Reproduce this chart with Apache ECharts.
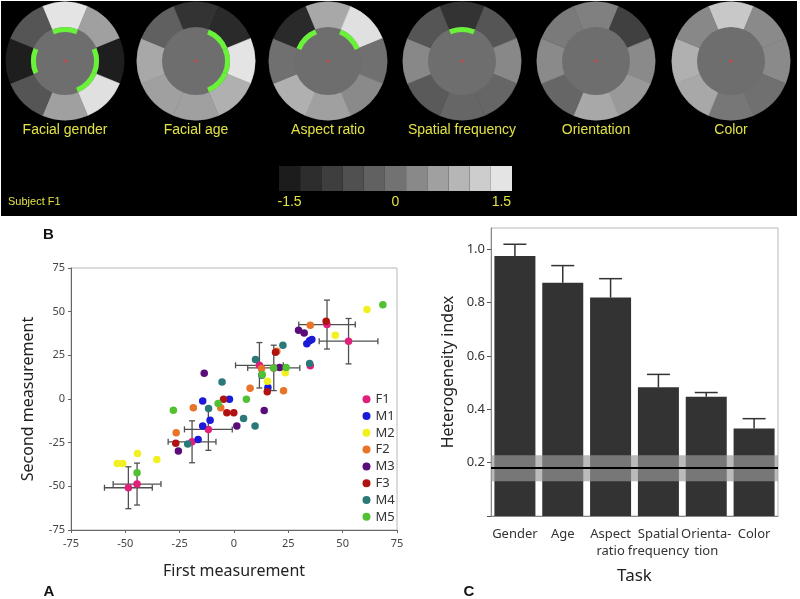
<!DOCTYPE html>
<html>
<head>
<meta charset="utf-8">
<script src="https://cdn.jsdelivr.net/npm/echarts@6/dist/echarts.min.js"></script>
<style>html,body{margin:0;padding:0;background:#fff;}#c{width:800px;height:599px;}</style>
</head>
<body>
<div id="c"></div>
<script>
// ---------- Panel top: disc maps (sector values clockwise from top, scale -1.5..1.5) ----------
const discNames = ['Facial gender', 'Facial age', 'Aspect ratio', 'Spatial frequency', 'Orientation', 'Color'];
const discGender = [1.5, 0.61, -1.47, 1.45, 0.61, -0.51, -1.47, -0.51];
const discAge = [-1.1, -1.26, 1.5, 0.82, 0.61, 0.61, 0.71, -0.31];
const discAspect = [0.71, 1.45, -0.03, 0.32, 0.61, 0.82, -0.03, -1.26];
const discSpatial = [-1.1, -0.51, 0.29, -0.21, -0.21, -0.42, 0.29, -0.51];
const discOrient = [0.18, -0.87, 0.32, 0.51, 0.71, -0.21, 0.32, 0.11];
const discColor = [1.13, 0.32, 0.32, -0.03, 0.07, 0.71, 0.82, 0.29];
const discInner = [-0.07, -0.07, -0.07, -0.07, -0.07, -0.07];
// significant sectors (green arcs)
const sigGender = [1, 0, 1, 1, 0, 0, 1, 0];
const sigAge = [0, 1, 1, 1, 0, 0, 0, 0];
const sigAspect = [0, 1, 0, 0, 0, 0, 0, 1];
const sigSpatial = [1, 0, 0, 0, 0, 0, 0, 0];
const sigOrient = [0, 0, 0, 0, 0, 0, 0, 0];
const sigColor = [0, 0, 0, 0, 0, 0, 0, 0];
const colorbarLevels = [-1.5, -1.2, -0.9, -0.6, -0.3, 0, 0.3, 0.6, 0.9, 1.2, 1.5];
const colorbarTicks = ['-1.5', '0', '1.5'];

// ---------- Panel A: scatter (first vs second measurement) ----------
const subjects = ['F1', 'M1', 'M2', 'F2', 'M3', 'F3', 'M4', 'M5'];
const subjectColors = ['#e0207a', '#1a1ad8', '#f2f020', '#e8742a', '#5a0c78', '#b01212', '#2a7878', '#52c032'];
const ptsF1 = [[-48.6, -50.8], [-44.6, -48.7], [-19.3, -24.5], [-11.8, -17.4], [11.7, 19.3], [18.3, 17.8], [42.8, 42.6], [52.7, 33.1], [35.1, 19.0]];
const errF1 = [[11, 12], [11, 12], [11, 12], [11, 12], [11, 13], [12, 13], [13, 14], [13.5, 13], [0, 0]];
const ptsM1 = [[-16.5, -23.2], [-14.4, -15.5], [-11, -12.1], [-14.4, -1.2], [-2.1, -0.1], [15.6, 6.6], [33.5, 31.7], [34.8, 33.3], [35.8, 34.0]];
const ptsM2 = [[-53.7, -36.9], [-51.2, -36.9], [-44.4, -31.2], [-35.5, -34.6], [15.4, 10.2], [23.6, 15], [46.6, 36.5], [61.2, 51.2]];
const ptsF2 = [[-26.6, -19.3], [-18.7, -5], [-6.1, -5], [7.4, 6.1], [12.7, 17.4], [19.7, 27.3], [22.8, 4.7], [35.1, 42.2]];
const ptsM3 = [[-25.6, -29.8], [-13.7, 14.8], [1.3, -15.5], [13.9, -6.6], [21, 18], [29.7, 39.4], [32.3, 37.8]];
const ptsF3 = [[-26.8, -25.4], [-4.8, -0.1], [-3.3, -7.9], [-0.1, -7.9], [15.3, 4.1], [19.1, 26.8], [42.4, 44.5]];
const ptsM4 = [[-21.3, -25.8], [-11.7, -5.4], [-5.5, 9.8], [4.4, -11.1], [9.9, 22.6], [9.7, -15.5], [12.8, 13.6], [22.5, 30.8], [34.8, 20.3]];
const ptsM5 = [[-44.6, -42.2], [-27.9, -6.4], [-7.3, -2.6], [5.7, -0.1], [13, 14], [18.2, 17.8], [24, 18], [68.5, 54]];
const scatterTicks = [-75, -50, -25, 0, 25, 50, 75];

// ---------- Panel C: heterogeneity index ----------
const tasks = ['Gender', 'Age', 'Aspect\nratio', 'Spatial\nfrequency', 'Orienta-\ntion', 'Color'];
const hetValues = [0.975, 0.875, 0.819, 0.4825, 0.4475, 0.328];
const hetErrors = [0.044, 0.064, 0.071, 0.0485, 0.0155, 0.037];
const baselineBand = [0.13, 0.2275];
const baselineMean = 0.18;

// ---------- helpers ----------
function gray(v) {
  let g = v <= 0 ? 114 + (v / 1.5) * 86 : 114 + (v / 1.5) * 114;
  g = Math.max(0, Math.min(255, Math.round(g)));
  const h = g.toString(16).padStart(2, '0');
  return '#' + h + h + h;
}

const discVals = [discGender, discAge, discAspect, discSpatial, discOrient, discColor];
const discSig = [sigGender, sigAge, sigAspect, sigSpatial, sigOrient, sigColor];
const discCx = [65, 196, 328, 462, 596, 731];
const discCy = 61;

const series = [];
const graphic = [];
graphic.push({type: 'rect', z: -10, shape: {x: 1, y: 1, width: 796, height: 215}, style: {fill: '#000'}});

discVals.forEach((vals, d) => {
  const base = {type: 'pie', center: [discCx[d], discCy], startAngle: 112.5, clockwise: true, silent: true,
    label: {show: false}, labelLine: {show: false}, animation: false, emphasis: {disabled: true}};
  series.push(Object.assign({}, base, {radius: [33, 59],
    data: vals.map((v, i) => ({value: 1, name: 's' + i, itemStyle: {color: gray(v), borderColor: gray(v), borderWidth: 0.6}}))}));
  series.push(Object.assign({}, base, {radius: [0, 34], z: 3,
    data: [{value: 1, name: 'inner', itemStyle: {color: gray(discInner[d])}}]}));
  series.push(Object.assign({}, base, {radius: [29, 34], z: 4,
    data: discSig[d].map((s, i) => ({value: 1, name: 'g' + i, itemStyle: {color: s ? '#6af23a' : 'rgba(0,0,0,0)'}}))}));
  series.push(Object.assign({}, base, {radius: [0, 1.5], z: 5,
    data: [{value: 1, name: 'fix', itemStyle: {color: '#d04848'}}]}));
  graphic.push({type: 'text', z: 100, x: discCx[d], y: 130,
    style: {text: discNames[d], fill: '#e2e244', font: '14px "Liberation Sans", Arial, sans-serif', textAlign: 'center', textVerticalAlign: 'middle'}});
});
graphic.push({type: 'text', z: 100, x: 8, y: 202,
  style: {text: 'Subject F1', fill: '#e2e244', font: '11px "Liberation Sans", Arial, sans-serif', textAlign: 'left', textVerticalAlign: 'middle'}});
graphic.push({type: 'text', z: 100, x: 48.5, y: 235, style: {text: 'B', fill: '#111', font: 'bold 15px "Liberation Sans", Arial, sans-serif', textAlign: 'center', textVerticalAlign: 'middle'}});
graphic.push({type: 'text', z: 100, x: 49, y: 592, style: {text: 'A', fill: '#111', font: 'bold 15px "Liberation Sans", Arial, sans-serif', textAlign: 'center', textVerticalAlign: 'middle'}});
graphic.push({type: 'text', z: 100, x: 469, y: 592, style: {text: 'C', fill: '#111', font: 'bold 15px "Liberation Sans", Arial, sans-serif', textAlign: 'center', textVerticalAlign: 'middle'}});

// colour bar (grid 0)
series.push({type: 'bar', xAxisIndex: 0, yAxisIndex: 0, barCategoryGap: '0%', silent: true, animation: false,
  data: colorbarLevels.map(v => ({value: 1, itemStyle: {color: gray(v)}}))});

// scatter error bars (grid 1)
series.push({type: 'custom', xAxisIndex: 1, yAxisIndex: 1, z: 2, silent: true, animation: false,
  data: ptsF1.map((p, i) => [p[0], p[1], errF1[i][0], errF1[i][1]]).filter(d => d[2] > 0),
  renderItem: function (params, api) {
    const x = api.value(0), y = api.value(1), xe = api.value(2), ye = api.value(3);
    const l = api.coord([x - xe, y]), r = api.coord([x + xe, y]);
    const t = api.coord([x, y + ye]), b = api.coord([x, y - ye]);
    const st = {stroke: '#505050', lineWidth: 1.3};
    const c = 3;
    return {type: 'group', children: [
      {type: 'line', shape: {x1: l[0], y1: l[1], x2: r[0], y2: r[1]}, style: st},
      {type: 'line', shape: {x1: l[0], y1: l[1] - c, x2: l[0], y2: l[1] + c}, style: st},
      {type: 'line', shape: {x1: r[0], y1: r[1] - c, x2: r[0], y2: r[1] + c}, style: st},
      {type: 'line', shape: {x1: t[0], y1: t[1], x2: b[0], y2: b[1]}, style: st},
      {type: 'line', shape: {x1: t[0] - c, y1: t[1], x2: t[0] + c, y2: t[1]}, style: st},
      {type: 'line', shape: {x1: b[0] - c, y1: b[1], x2: b[0] + c, y2: b[1]}, style: st}
    ]};
  }});
const allPts = [ptsF1, ptsM1, ptsM2, ptsF2, ptsM3, ptsF3, ptsM4, ptsM5];
allPts.forEach((pts, i) => {
  series.push({type: 'scatter', name: subjects[i], xAxisIndex: 1, yAxisIndex: 1, z: 3, symbolSize: 7.5,
    itemStyle: {color: subjectColors[i], opacity: 1}, animation: false, data: pts});
});

// bar chart (grid 2)
series.push({type: 'bar', xAxisIndex: 2, yAxisIndex: 2, barWidth: 41, itemStyle: {color: '#333333'}, animation: false, silent: true, z: 2,
  data: hetValues});
series.push({type: 'custom', xAxisIndex: 2, yAxisIndex: 2, z: 3, silent: true, animation: false,
  data: hetValues.map((v, i) => [i, v, hetErrors[i]]),
  renderItem: function (params, api) {
    const p0 = api.coord([api.value(0), api.value(1)]);
    const p1 = api.coord([api.value(0), api.value(1) + api.value(2)]);
    const st = {stroke: '#333', lineWidth: 1.5};
    return {type: 'group', children: [
      {type: 'line', shape: {x1: p0[0], y1: p0[1], x2: p1[0], y2: p1[1]}, style: st},
      {type: 'line', shape: {x1: p1[0] - 11.5, y1: p1[1], x2: p1[0] + 11.5, y2: p1[1]}, style: st}
    ]};
  }});
series.push({type: 'custom', xAxisIndex: 2, yAxisIndex: 2, z: 5, silent: true, animation: false,
  data: [[0, baselineBand[0], baselineBand[1], baselineMean]],
  renderItem: function (params, api) {
    const cs = params.coordSys;
    const y1 = api.coord([0, api.value(1)])[1];
    const y2 = api.coord([0, api.value(2)])[1];
    const ym = api.coord([0, api.value(3)])[1];
    return {type: 'group', children: [
      {type: 'rect', shape: {x: cs.x, y: y2, width: cs.width, height: y1 - y2}, style: {fill: 'rgba(153,153,153,0.67)'}},
      {type: 'line', shape: {x1: cs.x, y1: ym, x2: cs.x + cs.width, y2: ym}, style: {stroke: '#000', lineWidth: 2.2}}
    ]};
  }});

const lblFont = '"Noto Sans", "Open Sans", sans-serif';
const option = {
  animation: false,
  graphic: graphic,
  legend: {data: subjects, orient: 'vertical', left: 362.5, top: 391, padding: 0, itemWidth: 8, itemHeight: 8, itemGap: 0.4,
    icon: 'circle', selectedMode: false, textStyle: {fontSize: 13, color: '#333', lineHeight: 16.4, fontFamily: lblFont}},
  grid: [
    {left: 279, top: 166, width: 233, height: 25, show: false},
    {left: 71, top: 268, width: 326, height: 262, show: true, borderColor: '#b8b8b8', borderWidth: 1, backgroundColor: 'transparent'},
    {left: 491, top: 228, width: 287, height: 288, show: true, borderColor: '#b8b8b8', borderWidth: 1, backgroundColor: 'transparent'}
  ],
  xAxis: [
    {gridIndex: 0, type: 'category', data: colorbarLevels.map(String), axisLine: {show: false}, axisTick: {show: false},
      axisLabel: {interval: 0, margin: 4, color: '#e2e244', fontSize: 14, fontFamily: '"Liberation Sans", Arial, sans-serif',
        formatter: function (v, i) { return i === 0 ? colorbarTicks[0] : (i === 5 ? colorbarTicks[1] : (i === 10 ? colorbarTicks[2] : '')); }}},
    {gridIndex: 1, type: 'value', min: scatterTicks[0], max: scatterTicks[scatterTicks.length - 1], interval: 25,
      splitLine: {show: false}, axisLine: {onZero: false, lineStyle: {color: '#666'}}, axisTick: {length: 3, lineStyle: {color: '#666'}},
      axisLabel: {fontSize: 11, color: '#444', margin: 8, fontFamily: lblFont},
      name: 'First measurement', nameLocation: 'middle', nameGap: 33, nameTextStyle: {fontSize: 16, color: '#222', fontFamily: lblFont}},
    {gridIndex: 2, type: 'category', data: tasks, axisLine: {onZero: false, lineStyle: {color: '#888'}},
      axisTick: {alignWithLabel: true, length: 5, lineStyle: {color: '#555'}},
      axisLabel: {interval: 0, fontSize: 13, color: '#333', lineHeight: 17, margin: 10, fontFamily: lblFont},
      name: 'Task', nameLocation: 'middle', nameGap: 52, nameTextStyle: {fontSize: 17, color: '#222', fontFamily: lblFont}}
  ],
  yAxis: [
    {gridIndex: 0, type: 'value', min: 0, max: 1, show: false},
    {gridIndex: 1, type: 'value', min: scatterTicks[0], max: scatterTicks[scatterTicks.length - 1], interval: 25,
      splitLine: {show: false}, axisLine: {show: true, onZero: false, lineStyle: {color: '#666'}}, axisTick: {show: true, length: 3, lineStyle: {color: '#666'}},
      axisLabel: {fontSize: 11, color: '#444', margin: 6, fontFamily: lblFont},
      name: 'Second measurement', nameLocation: 'middle', nameGap: 35, nameTextStyle: {fontSize: 16, color: '#222', fontFamily: lblFont}},
    {gridIndex: 2, type: 'value', min: 0, max: 1.08, interval: 0.2,
      splitLine: {show: false}, axisLine: {show: true, onZero: false, lineStyle: {color: '#888'}},
      axisTick: {show: true, length: 4, lineStyle: {color: '#555'}, interval: function (i, v) { return v > 0 && v < 1.05; }},
      axisLabel: {fontSize: 13, color: '#333', margin: 6, fontFamily: lblFont, showMaxLabel: false,
        formatter: function (v) { return (v === 0 || v > 1.05) ? '' : v.toFixed(1); }},
      name: 'Heterogeneity index', nameLocation: 'middle', nameGap: 35, nameTextStyle: {fontSize: 16, color: '#222', fontFamily: lblFont}}
  ],
  series: series
};
const chart = echarts.init(document.getElementById('c'), null, {renderer: 'canvas'});
chart.setOption(option);
</script>
</body>
</html>
